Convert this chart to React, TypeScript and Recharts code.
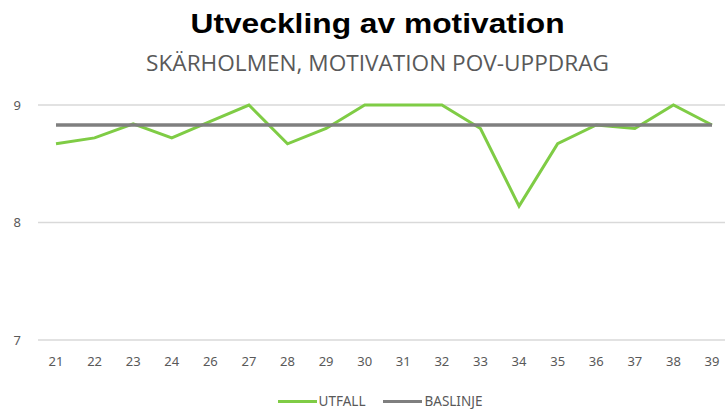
import React from "react";
import { LineChart, Line, XAxis, YAxis, CartesianGrid, Legend } from "recharts";

const weeks = ["21", "22", "23", "24", "26", "27", "28", "29", "30", "31", "32", "33", "34", "35", "36", "37", "38", "39"];
const utfall = [8.67, 8.72, 8.84, 8.72, 8.86, 9, 8.67, 8.8, 9, 9, 9, 8.8, 8.14, 8.67, 8.83, 8.8, 9, 8.83];
const baslinje = [8.83, 8.83, 8.83, 8.83, 8.83, 8.83, 8.83, 8.83, 8.83, 8.83, 8.83, 8.83, 8.83, 8.83, 8.83, 8.83, 8.83, 8.83];
const yTicks = [7, 8, 9];
const seriesNames = ["UTFALL", "BASLINJE"];

const data = weeks.map((w, i) => ({ week: w, UTFALL: utfall[i], BASLINJE: baslinje[i] }));

const GREEN = "#7fcc45";
const GRAY = "#7f7f7f";
const TICK = "#595959";

const renderLegend = (props: any) => {
  const payload = [...(props.payload || [])].sort(
    (a: any, b: any) => seriesNames.indexOf(a.value) - seriesNames.indexOf(b.value)
  );
  return (
    <div style={{ display: "flex", justifyContent: "center", alignItems: "center", gap: 18, height: 16 }}>
      {payload.map((p: any) => (
        <div key={p.value} style={{ display: "flex", alignItems: "center" }}>
          <div style={{ width: 39, height: 3, background: p.color, marginRight: 2 }} />
          <span style={{ fontFamily: "'Noto Sans', sans-serif", fontSize: 13.5, color: TICK, lineHeight: "16px" }}>{p.value}</span>
        </div>
      ))}
    </div>
  );
};

export default function App() {
  return (
    <div style={{ position: "absolute", left: 0, top: 0, width: 725, height: 409, overflow: "hidden", background: "#fff" }}>
      <div
        style={{
          position: "absolute",
          left: 0,
          width: 755,
          top: 9,
          textAlign: "center",
          fontFamily: "'Liberation Sans', Arial, sans-serif",
          fontWeight: "bold",
          fontSize: 27,
          color: "#000",
          transform: "scaleX(1.176)",
          transformOrigin: "377.5px 0",
          whiteSpace: "nowrap",
        }}
      >
        Utveckling av motivation
      </div>
      <div
        style={{
          position: "absolute",
          left: 0,
          width: 755,
          top: 49,
          textAlign: "center",
          fontFamily: "'Open Sans', sans-serif",
          fontSize: 21,
          color: TICK,
          transform: "scaleX(1.077)",
          transformOrigin: "377.5px 0",
          whiteSpace: "nowrap",
        }}
      >
        SKÄRHOLMEN, MOTIVATION POV-UPPDRAG
      </div>
      <div style={{ position: "absolute", left: 0, top: 0 }}>
        <LineChart width={755} height={409} data={data} margin={{ top: 105, right: 0, bottom: 23, left: 0 }}>
          <CartesianGrid vertical={false} stroke="#d9d9d9" strokeWidth={1.5} />
          <XAxis
            dataKey="week"
            axisLine={false}
            tickLine={false}
            padding={{ left: 18, right: 43 }}
            tickMargin={11}
            interval={0}
            height={30}
            tick={{ fill: TICK, fontSize: 13, fontFamily: "'Noto Sans', sans-serif" }}
          />
          <YAxis
            domain={[7, 9]}
            ticks={yTicks}
            width={38}
            axisLine={false}
            tickLine={false}
            tickMargin={11}
            tick={{ fill: TICK, fontSize: 13, fontFamily: "'Noto Sans', sans-serif" }}
          />
          <Legend
            content={renderLegend}
            wrapperStyle={{ position: "absolute", left: 0, top: 393, width: 760, height: 16 }}
          />
          <Line dataKey="UTFALL" stroke={GREEN} strokeWidth={3} dot={false} isAnimationActive={false} />
          <Line dataKey="BASLINJE" stroke={GRAY} strokeWidth={3.5} dot={false} isAnimationActive={false} />
        </LineChart>
      </div>
    </div>
  );
}
